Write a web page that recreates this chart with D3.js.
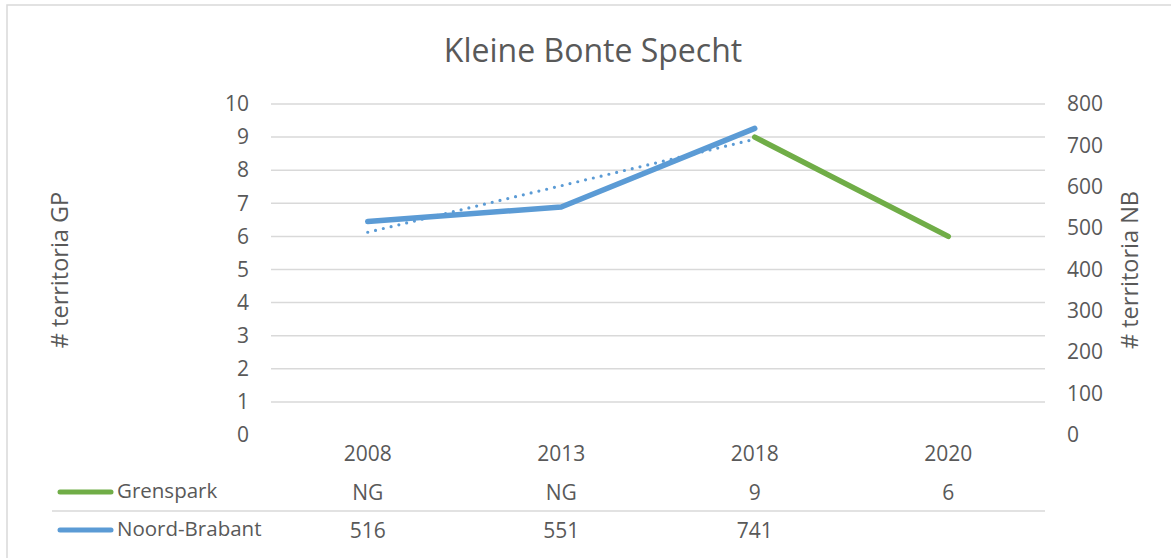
<!DOCTYPE html>
<html><head><meta charset="utf-8">
<script src="https://cdn.jsdelivr.net/npm/d3@7"></script>
<style>
html,body{margin:0;padding:0;background:#fff;}
text{font-family:"Open Sans",sans-serif;fill:#595959;}
</style></head>
<body><svg id="c" width="1171" height="558"></svg>
<script>
const categories = ["2008","2013","2018","2020"];
const grenspark = [null, null, 9, 6];
const grensparkLabels = ["NG","NG","9","6"];
const noordBrabant = [516, 551, 741, null];
const nbLabels = ["516","551","741",""];
const nbTrend = [490, 715]; // linear trend endpoints at 2008 and 2018
const leftTicks = [0,1,2,3,4,5,6,7,8,9,10];
const rightTicks = [0,100,200,300,400,500,600,700,800];

const svg = d3.select("#c");
const green = "#70AD47", blue = "#5B9BD5", grid = "#D9D9D9";

// chart frame
svg.append("rect").attr("x",7).attr("y",5).attr("width",1170).attr("height",560)
  .attr("fill","none").attr("stroke",grid).attr("stroke-width",1.5);

const x = d3.scaleBand().domain(categories).range([271,1045]);
const yL = d3.scaleLinear().domain([0,10]).range([435,104]);
const yR = d3.scaleLinear().domain([0,800]).range([435,104]);
const cx = c => x(c) + x.bandwidth()/2;

// gridlines (no line at 0)
svg.append("g").selectAll("line").data(leftTicks.filter(d=>d>0)).join("line")
  .attr("x1",271).attr("x2",1045).attr("y1",d=>yL(d)).attr("y2",d=>yL(d))
  .attr("stroke",grid).attr("stroke-width",1.5);

// left axis labels
const axL = svg.append("g").attr("transform","translate(249,0)")
  .call(d3.axisLeft(yL).tickValues(leftTicks).tickSize(0).tickPadding(0));
axL.select(".domain").remove();
axL.selectAll("text").attr("font-size",21).style("fill","#595959").attr("font-family","Open Sans");

// right axis labels
const axR = svg.append("g").attr("transform","translate(1067,0)")
  .call(d3.axisRight(yR).tickValues(rightTicks).tickSize(0).tickPadding(0));
axR.select(".domain").remove();
axR.selectAll("text").attr("font-size",21).style("fill","#595959").attr("font-family","Open Sans");

// category labels
svg.append("g").selectAll("text").data(categories).join("text")
  .attr("x",d=>cx(d)).attr("y",461).attr("text-anchor","middle").attr("font-size",21).text(d=>d);

// title
svg.append("text").attr("x",593).attr("y",62).attr("text-anchor","middle")
  .attr("font-size",32).text("Kleine Bonte Specht");

// axis titles
svg.append("text").attr("transform","translate(68,270) rotate(-90)").attr("text-anchor","middle")
  .attr("font-size",23.5).text("# territoria GP");
svg.append("text").attr("transform","translate(1138,270) rotate(-90)").attr("text-anchor","middle")
  .attr("font-size",23.5).text("# territoria NB");

// trendline
const trendCats = ["2008","2018"];
svg.append("path").datum(nbTrend.map((v,i)=>[cx(trendCats[i]), yR(v)]))
  .attr("d", d3.line()).attr("fill","none").attr("stroke",blue).attr("stroke-width",3.2)
  .attr("stroke-dasharray","0 8").attr("stroke-linecap","round");

// series lines
const lineL = d3.line().defined(d=>d.v!=null).x(d=>cx(d.c)).y(d=>yL(d.v));
const lineR = d3.line().defined(d=>d.v!=null).x(d=>cx(d.c)).y(d=>yR(d.v));
svg.append("path").datum(noordBrabant.map((v,i)=>({c:categories[i],v})))
  .attr("d",lineR).attr("fill","none").attr("stroke",blue).attr("stroke-width",5.5)
  .attr("stroke-linecap","round").attr("stroke-linejoin","round");
svg.append("path").datum(grenspark.map((v,i)=>({c:categories[i],v})))
  .attr("d",lineL).attr("fill","none").attr("stroke",green).attr("stroke-width",5.5)
  .attr("stroke-linecap","round").attr("stroke-linejoin","round");

// data table
svg.append("line").attr("x1",52).attr("x2",1045).attr("y1",511).attr("y2",511)
  .attr("stroke",grid).attr("stroke-width",1.5);
const rows = [
  {name:"Grenspark", color:green, labels:grensparkLabels, y:492},
  {name:"Noord-Brabant", color:blue, labels:nbLabels, y:530}
];
rows.forEach(r=>{
  svg.append("line").attr("x1",60).attr("x2",111).attr("y1",r.y).attr("y2",r.y)
    .attr("stroke",r.color).attr("stroke-width",5).attr("stroke-linecap","round");
  svg.append("text").attr("x",117).attr("y",r.y+6).attr("font-size",20.5).text(r.name);
  svg.append("g").selectAll("text").data(r.labels).join("text")
    .attr("x",(d,i)=>cx(categories[i])).attr("y",r.y+8).attr("text-anchor","middle")
    .attr("font-size",21).text(d=>d);
});
</script></body></html>
